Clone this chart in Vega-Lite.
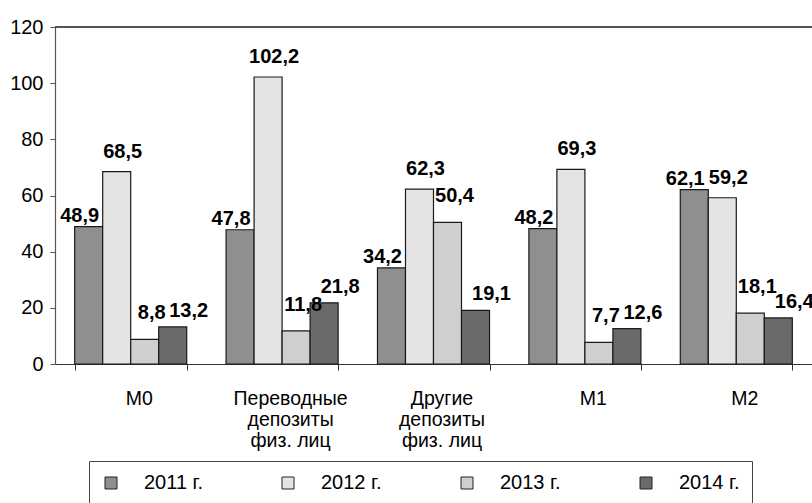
{
  "$schema": "https://vega.github.io/schema/vega-lite/v6.json",
  "width": 757,
  "height": 337,
  "autosize": "none",
  "padding": {"left": 55, "top": 27, "right": 0, "bottom": 139},
  "background": "#ffffff",
  "config": {
    "view": {"stroke": null},
    "font": "Liberation Sans",
    "locale": {"number": {"decimal": ",", "thousands": " ", "grouping": [3], "currency": ["", " ₽"]}}
  },
  "data": {
    "values": [
      {"cat": "М0", "year": "2011 г.", "value": 48.9},
      {"cat": "М0", "year": "2012 г.", "value": 68.5},
      {"cat": "М0", "year": "2013 г.", "value": 8.8},
      {"cat": "М0", "year": "2014 г.", "value": 13.2},
      {"cat": "Переводные\nдепозиты\nфиз. лиц", "year": "2011 г.", "value": 47.8},
      {"cat": "Переводные\nдепозиты\nфиз. лиц", "year": "2012 г.", "value": 102.2},
      {"cat": "Переводные\nдепозиты\nфиз. лиц", "year": "2013 г.", "value": 11.8},
      {"cat": "Переводные\nдепозиты\nфиз. лиц", "year": "2014 г.", "value": 21.8},
      {"cat": "Другие\nдепозиты\nфиз. лиц", "year": "2011 г.", "value": 34.2},
      {"cat": "Другие\nдепозиты\nфиз. лиц", "year": "2012 г.", "value": 62.3},
      {"cat": "Другие\nдепозиты\nфиз. лиц", "year": "2013 г.", "value": 50.4},
      {"cat": "Другие\nдепозиты\nфиз. лиц", "year": "2014 г.", "value": 19.1},
      {"cat": "М1", "year": "2011 г.", "value": 48.2},
      {"cat": "М1", "year": "2012 г.", "value": 69.3},
      {"cat": "М1", "year": "2013 г.", "value": 7.7},
      {"cat": "М1", "year": "2014 г.", "value": 12.6},
      {"cat": "М2", "year": "2011 г.", "value": 62.1},
      {"cat": "М2", "year": "2012 г.", "value": 59.2},
      {"cat": "М2", "year": "2013 г.", "value": 18.1},
      {"cat": "М2", "year": "2014 г.", "value": 16.4}
    ]
  },
  "encoding": {
    "x": {
      "field": "cat", "type": "nominal", "sort": null,
      "scale": {"paddingInner": 0.26, "paddingOuter": 0.13},
      "axis": {
        "title": null,
        "labelAngle": 0,
        "labelExpr": "datum.value ? split(datum.value, '\\n') : ''",
        "labelFont": "Liberation Sans",
        "labelFontSize": 19.5,
        "labelLineHeight": 21,
        "labelColor": "#000000",
        "labelPadding": 19,
        "labelOffset": 8,
        "labelBaseline": "top",
        "tickBand": "extent",
        "tickSize": 6,
        "tickColor": "#333333",
        "domainColor": "#333333",
        "domainWidth": 1
      }
    },
    "xOffset": {"field": "year", "type": "nominal", "sort": null, "scale": {"paddingInner": 0, "paddingOuter": 0}},
    "y": {
      "field": "value", "type": "quantitative",
      "scale": {"domain": [0, 120], "nice": false},
      "axis": {
        "title": null,
        "values": [0, 20, 40, 60, 80, 100, 120],
        "grid": false,
        "labelFont": "Liberation Sans",
        "labelFontSize": 20,
        "labelColor": "#000000",
        "labelPadding": 7,
        "tickSize": 5,
        "tickColor": "#555555",
        "domainColor": "#555555",
        "domainWidth": 1.2
      }
    }
  },
  "layer": [
    {
      "mark": {"type": "bar", "stroke": "#1a1a1a", "strokeWidth": 1.2},
      "encoding": {
        "color": {
          "field": "year", "type": "nominal", "sort": null,
          "scale": {"range": ["#8f8f8f", "#e4e4e4", "#cfcfcf", "#6a6a6a"]},
          "legend": {
            "title": null,
            "orient": "none",
            "legendX": 34,
            "legendY": 434,
            "direction": "horizontal",
            "columns": 4,
            "symbolType": "square",
            "symbolSize": 144,
            "symbolStrokeColor": "#222222",
            "symbolStrokeWidth": 1,
            "labelFont": "Liberation Sans",
            "labelFontSize": 20,
            "labelColor": "#000000",
            "labelOffset": 23,
            "columnPadding": 75,
            "padding": 12,
            "strokeColor": "#444444",
            "fillColor": "#ffffff"
          }
        }
      }
    },
    {
      "transform": [{"filter": "datum.year === '2011 г.'"}],
      "mark": {"type": "text", "fontWeight": "bold", "fontSize": 20, "font": "Liberation Sans", "baseline": "alphabetic", "align": "center", "dx": -9, "dy": -5, "color": "#000000"},
      "encoding": {"text": {"field": "value", "type": "quantitative", "format": ".1f"}}
    },
    {
      "transform": [{"filter": "datum.year === '2012 г.'"}],
      "mark": {"type": "text", "fontWeight": "bold", "fontSize": 20, "font": "Liberation Sans", "baseline": "alphabetic", "align": "center", "dx": 6, "dy": -14, "color": "#000000"},
      "encoding": {"text": {"field": "value", "type": "quantitative", "format": ".1f"}}
    },
    {
      "transform": [{"filter": "datum.year === '2013 г.'"}],
      "mark": {"type": "text", "fontWeight": "bold", "fontSize": 20, "font": "Liberation Sans", "baseline": "alphabetic", "align": "center", "dx": 7, "dy": -20, "color": "#000000"},
      "encoding": {"text": {"field": "value", "type": "quantitative", "format": ".1f"}}
    },
    {
      "transform": [{"filter": "datum.year === '2014 г.'"}],
      "mark": {"type": "text", "fontWeight": "bold", "fontSize": 20, "font": "Liberation Sans", "baseline": "alphabetic", "align": "center", "dx": 16, "dy": -10, "color": "#000000"},
      "encoding": {"text": {"field": "value", "type": "quantitative", "format": ".1f"}}
    },
    {
      "mark": {"type": "rule", "color": "#555555", "strokeWidth": 1.2},
      "encoding": {"x": null, "xOffset": null, "y": {"datum": 120}}
    }
  ]
}
